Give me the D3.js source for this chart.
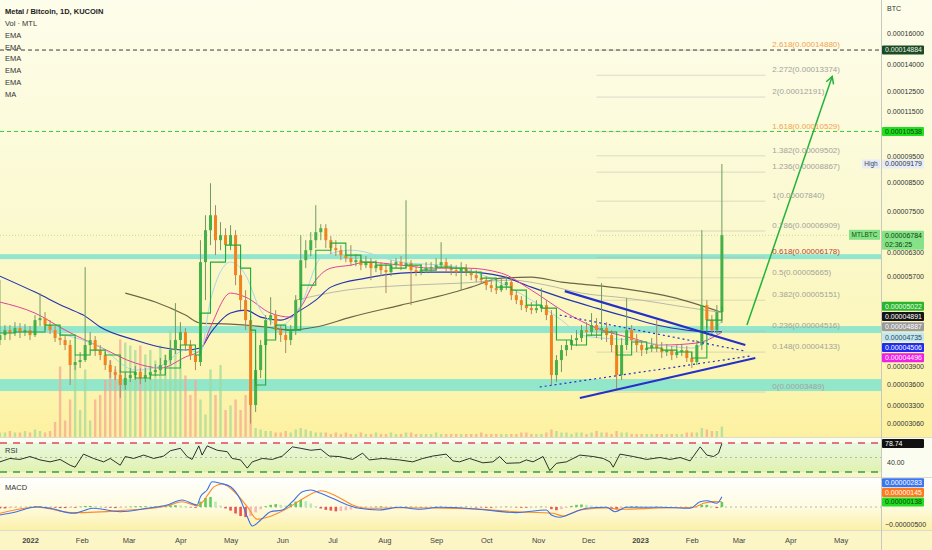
<!DOCTYPE html>
<html>
<head>
<meta charset="utf-8">
<title>Metal / Bitcoin, 1D, KUCOIN</title>
<script src="https://d3js.org/d3.v7.min.js"></script>
<style>
  body { margin: 0; background: #fff; }
  svg { display: block; font-family: "Liberation Sans", Arial, sans-serif; }
</style>
</head>
<body>
<div id="chart"></div>
<script>
// prices are in units of 1e-8 BTC, days are counted from 2021-12-14
const startDate = new Date(2021, 11, 14);
const candleStep = 3; // days per candle

// [open, high, low, close]
const candles = [
  [4350,5609,4259,4443],[4443,4635,4350,4538],[4538,4635,4350,4481],[4481,4694,4424,4577],[4577,4675,4387,4500],
  [4500,4655,4424,4538],[4538,4616,4350,4443],[4443,4836,4406,4734],[4734,5309,4616,4775],[4775,4898,4538,4635],
  [4635,4734,4462,4538],[4538,4616,4314,4387],[4387,4481,4259,4350],[4350,4424,4169,4259],[4259,4350,3595,3913],
  [3913,4082,3830,3963],[3963,4134,3863,3996],[3996,5927,3963,4259],[4259,4500,4169,4350],[4350,4424,4065,4169],
  [4169,4259,3996,4082],[4082,4134,3830,3913],[3913,3996,3703,3798],[3798,3896,3672,3750],[3750,3830,3402,3595],
  [3595,3798,3519,3703],[3703,3863,3641,3750],[3750,3896,3672,3798],[3798,3863,3610,3703],[3703,3863,3641,3750],
  [3750,3896,3672,3798],[3798,3929,3734,3830],[3830,4031,3766,3913],[3913,4082,3830,3996],[3996,4350,3929,4169],
  [4169,5088,4100,4350],[4350,4694,4205,4500],[4500,4577,4169,4259],[4259,4350,3996,4082],[4082,4169,3830,3963],
  [3963,6645,3896,6054],[6054,7387,5153,6932],[6932,8460,6506,7387],[7387,7707,6236,6645],[6645,7172,6369,6787],
  [6787,6991,6157,6506],[6506,7081,6369,6787],[6787,6932,5491,5729],[5729,5977,4939,5153],[5153,5376,4538,4734],
  [4734,4836,3053,3302],[3302,3996,3206,3830],[3830,4350,3703,4259],[4259,4836,4169,4734],[4734,5219,4635,4836],
  [4836,4939,4387,4538],[4538,4635,4314,4443],[4443,4577,4117,4350],[4350,4635,4259,4538],[4538,5263,4443,5153],
  [5153,6787,5045,6105],[6105,6645,5902,6369],[6369,6874,6210,6645],[6645,7707,6424,6874],[6874,7111,6645,6991],
  [6991,7111,6424,6645],[6645,6759,6262,6424],[6424,6645,6210,6369],[6369,6506,6105,6236],[6236,6369,6054,6157],
  [6157,6506,5952,6054],[6054,6262,5952,6105],[6105,6236,5852,5977],[5977,6210,5902,6054],[6054,6157,5609,5902],
  [5902,6105,5803,5977],[5977,6054,5705,5852],[5852,6003,5309,5803],[5803,6105,5705,5977],[5977,6157,5902,6054],
  [6054,6210,5852,5977],[5977,7872,5902,6028],[6028,6105,5045,5852],[5852,5977,5705,5803],[5803,6003,5729,5852],
  [5852,6054,5778,5902],[5902,6054,5803,5927],[5927,6157,5852,5977],[5977,6589,5902,6054],[6054,6157,5803,5902],
  [5902,6003,5729,5852],[5852,5977,5705,5803],[5803,6054,5376,5902],[5902,6003,5705,5803],[5803,5902,5609,5729],
  [5729,5852,5562,5657],[5657,5754,5515,5609],[5609,5705,5376,5491],[5491,5609,5331,5422],[5422,5515,5287,5376],
  [5376,5657,5331,5491],[5491,5705,5376,5562],[5562,5657,5153,5263],[5263,5376,5067,5153],[5153,5241,4939,5045],
  [5045,5197,4898,4981],[4981,5110,4856,4939],[4939,5153,4877,4981],[4981,5422,4898,5045],[5045,5153,4734,4836],
  [4836,4939,3595,3750],[3750,4082,3641,3996],[3996,4259,3798,4169],[4169,4350,4065,4259],[4259,4443,4169,4350],
  [4350,4538,4241,4387],[4387,4635,4314,4538],[4538,4694,4350,4500],[4500,4877,4424,4635],[4635,4775,4387,4538],
  [4538,5538,4350,4577],[4577,4694,4314,4443],[4443,4538,4134,4259],[4259,4350,3519,3750],[3750,4387,3672,4259],
  [4259,5197,4169,4538],[4538,4635,4241,4350],[4350,4462,4134,4259],[4259,4350,4065,4169],[4169,4314,4100,4205],
  [4205,4387,4134,4259],[4259,4734,4134,4205],[4205,4314,4031,4134],[4134,4277,4065,4169],[4169,4241,3996,4082],
  [4082,4259,4031,4134],[4134,4277,4065,4169],[4169,4241,3963,4031],[4031,4134,3863,3963],[3963,4350,3913,4259],
  [4259,6932,4169,5045],[5045,5153,4577,4734],[4734,4836,4424,4538],[4538,5045,4462,4898],[4898,9179,4675,6784]
];

// volume per candle, relative units
const volumes = [
  3,3,4,3,3,4,3,5,4,3,4,10,47,11,25,48,18,45,11,25,28,38,51,45,65,63,61,58,61,55,
  58,51,61,55,71,65,51,41,28,38,25,15,45,28,48,18,21,25,18,28,28,
  6,5,4,4,3,3,4,3,5,6, 5,4,3,3,3,2,3,2,3,2, 2,3,2,2,3,2,2,3,2,2, 3,3,2,2,2,2,3,2,2,2,
  2,2,2,2,2,3,2,2,2,2, 2,2,2,3,3,2,2,2,3,5, 4,3,3,2,3,3,2,3,4,3, 3,2,4,3,3,2,2,2,2,2,
  2,2,2,2,2,2,3,3,3,6, 5,4,4,7
];

// moving averages: [day, price]
const emaFast = [[0,4481],[9,4500],[18,4500],[27,4635],[36,4443],[45,4082],[54,4169],[63,4082],[72,3798],[81,3703],
  [90,3750],[99,3863],[108,4259],[117,4082],[120,4877],[126,6054],[135,6506],[144,5902],[150,4538],[153,3595],
  [159,4350],[165,4635],[171,4538],[180,5491],[189,6369],[198,6561],[207,6236],[216,6054],[225,5977],[234,5902],
  [243,5977],[252,5852],[261,5927],[270,5902],[279,5803],[288,5657],[297,5445],[306,5376],[315,5045],[324,4981],
  [333,4350],[342,4259],[351,4443],[360,4500],[369,4082],[378,4314],[387,4205],[396,4169],[405,4134],[414,4031],
  [423,4734],[432,5022]];
const emaLight = [[0,4500],[21,4538],[39,4443],[60,4223],[81,3830],[96,3896],[111,4169],[120,4134],[126,5153],[138,6054],
  [147,5729],[156,4939],[168,4635],[180,5045],[192,6157],[210,6369],[240,6054],[270,5952],[300,5538],[318,5153],
  [336,4734],[348,4443],[360,4387],[378,4350],[396,4259],[414,4205],[426,4443],[432,4735]];
const emaPink = [[0,5110],[21,4877],[39,4538],[60,4223],[81,3946],[96,3863],[111,4048],[120,4169],[126,4597],[138,5309],
  [147,5219],[162,4877],[174,4795],[180,5003],[189,5609],[198,5902],[210,5977],[219,6054],[240,5977],[258,5902],
  [279,5902],[300,5778],[318,5376],[339,4877],[357,4577],[378,4387],[396,4259],[417,4296],[432,4496]];
const emaBlue = [[0,5705],[21,5331],[39,5003],[51,4815],[60,4597],[81,4350],[99,4205],[111,4169],[120,4205],[126,4481],
  [138,4877],[147,4939],[156,4795],[168,4734],[180,4939],[189,5153],[198,5445],[219,5657],[240,5778],[258,5803],
  [279,5803],[300,5705],[318,5445],[339,5175],[357,4981],[378,4775],[396,4616],[417,4519],[432,4506]];
const emaGray = [[177,5153],[207,5376],[246,5491],[276,5538],[306,5609],[327,5491],[348,5309],[375,5197],[414,4981],[432,4887]];
const ma200 = [[75,5309],[93,5110],[111,4836],[120,4675],[138,4655],[159,4597],[174,4538],[189,4597],[210,4795],[240,5045],
  [270,5309],[282,5445],[300,5657],[318,5681],[336,5562],[348,5515],[375,5399],[402,5219],[432,4891]];

// RSI: [day, value]
const rsi = [[0,41],[6,48],[12,46],[18,52],[24,45],[30,41],[36,46],[42,34],[45,30],[50,57],
  [56,48],[62,41],[66,48],[72,34],[75,52],[80,48],[86,55],[92,48],[98,53],[102,64],
  [108,69],[112,52],[115,46],[119,74],[121,55],[124,74],[130,65],[136,62],[139,48],[144,45],
  [148,28],[151,41],[157,48],[163,46],[169,53],[175,72],[180,69],[186,65],[192,67],[197,53],
  [203,52],[211,46],[217,59],[221,45],[229,48],[239,45],[247,41],[253,48],[259,53],[267,57],
  [271,43],[275,41],[281,48],[289,39],[295,41],[299,52],[303,38],[311,39],[315,45],[319,41],
  [325,52],[329,23],[333,38],[339,41],[347,55],[355,52],[361,48],[365,41],[367,30],[371,57],
  [379,52],[387,46],[395,50],[401,46],[407,50],[413,43],[419,72],[423,55],[427,52],[430,59],[432,78.74]];
const rsiLevels = [80, 50, 20];

// MACD (units of 1e-8): [day, value]
const macdLine = [[0,-222],[10,-130],[22,8],[30,-36],[44,-175],[56,-36],[72,-130],[88,-36],[100,56],[109,194],
  [118,56],[120,286],[124,472],[127,703],[132,658],[138,564],[144,194],[148,-269],[151,-528],[156,-361],
  [162,-130],[169,-83],[175,147],[181,425],[186,472],[192,380],[199,242],[208,56],[215,-36],[227,-83],
  [239,-8],[251,-64],[263,-8],[279,-36],[291,-83],[309,-157],[327,-83],[330,-222],[335,-286],[343,-157],
  [351,-36],[363,-8],[368,-130],[375,-8],[395,-8],[413,-36],[419,147],[423,175],[429,103],[432,283]];
const signalLine = [[0,-175],[22,-8],[44,-157],[72,-101],[100,28],[109,147],[118,30],[121,120],[125,380],[128,560],
  [133,640],[139,480],[148,8],[154,-342],[160,-286],[172,-36],[180,194],[192,453],[202,286],[211,56],
  [220,-36],[239,-19],[279,-45],[309,-130],[331,-175],[337,-250],[347,-83],[363,-27],[371,-64],[395,-27],
  [415,-8],[421,103],[427,148],[432,145]];
const macdHist = [
  -40,-40,-30,-20,-10,0,10, 20,20,10,-10, -20,-30,-30,-20,-20, 10,30,30,20,10, -10,-20,-30,-20,-10,
  10,20,20,20,10, 20,30,40,50,50, 40,20,-10,-20, 150,250,280,150, 40,-40,-100, -180,-250,-280,-250,
  -150,-60,20, 60,80,60,40, 80,150,200,160, 100,20,-40,-80, -100,-120,-110,-90,-70,
  -40,-20,-10,0,10, 20,10,0,-10,0, 10,10,0,-10,-10, 0,10,10,0,-10, -10,0,10,0,-10,
  -10,-20,-20,-10,0, 10,0,-10,-20,-20, -10,0,10,0,-60, -90,-60,-20,30,60, 70,60,40,20,10,
  0,-20,-60,-30,10, 20,20,10,0,0, 10,0,-10,0,0, 0,-10,-20,-10,60, 60,20,-30,138
];

// zones, levels and drawings
const zones = [[6131,6262],[4481,4616],[3504,3687]];
const fibRatios = [0, 0.148, 0.236, 0.382, 0.5, 0.618, 0.786, 1, 1.236, 1.382, 1.618, 2, 2.272, 2.618];
const fibPrices = [3489, 4133, 4516, 5151, 5665, 6178, 6909, 7840, 8867, 9502, 10529, 12191, 13374, 14880];
const fibSpan = [357, 458];
const hLines = [[14884, "#3a3a3a"], [10538, "#2fcf3f"]];
const trendLines = [
  {from: [338,5353], to: [446,4259], dash: null},
  {from: [347,3402], to: [452,4031], dash: null},
  {from: [335,4836], to: [446,4151], dash: "2,3"},
  {from: [323,3565], to: [449,4065], dash: "2,3"}
];
const arrow = {from: [447,4635], to: [498,13310]};

const priceTicks = [16000,14000,12500,11500,9500,8500,7500,6300,5700,3900,3600,3300,3060];
const timeTickLabels = ["2022","Feb","Mar","Apr","May","Jun","Jul","Aug","Sep","Oct","Nov","Dec","2023","Feb","Mar","Apr","May"];
const legendItems = ["Vol · MTL","EMA","EMA","EMA","EMA","EMA","MA"];

const lastPrice = 6784, highPrice = 9179;
const mainBadges = [
  {v: 5022, bg: "#2cb52c", fg: "#eaffea"},
  {v: 4891, bg: "#151515", fg: "#ffffff"},
  {v: 4887, bg: "#9b9b9b", fg: "#ffffff"},
  {v: 4735, bg: "#bfe8f3", fg: "#334455"},
  {v: 4506, bg: "#1f2df0", fg: "#ffffff"},
  {v: 4496, bg: "#f020e6", fg: "#ffffff"}
];
const macdBadges = [
  {v: 138, bg: "#22dd22", fg: "#0b3b0b"},
  {v: 145, bg: "#ff7a1a", fg: "#ffffff"},
  {v: 283, bg: "#3b76ee", fg: "#ffffff"}
];

// ---- layout ----
const W = 932, H = 550, plotRight = 881;
const mainBottom = 437, rsiBottom = 477, macdBottom = 530;

const svg = d3.select("#chart").append("svg").attr("width", W).attr("height", H);
const defs = svg.append("defs");

function vGrad(id, stops) {
  const g = defs.append("linearGradient").attr("id", id)
    .attr("x1", 0).attr("y1", 0).attr("x2", 0).attr("y2", 1);
  stops.forEach(s => g.append("stop").attr("offset", s[0]).attr("stop-color", s[1]));
}
vGrad("bgMain", [[0, "#fdfdeb"], [0.5, "#fbf9d0"], [0.86, "#fcf5b2"], [1, "#fdf1a0"]]);
vGrad("bgRsi", [[0, "#e9f8df"], [1, "#e0f2b0"]]);
vGrad("bgMacd", [[0, "#ffffff"], [0.55, "#fefbe2"], [1, "#fbf1a8"]]);

function clip(id, y0, y1) {
  defs.append("clipPath").attr("id", id).append("rect")
    .attr("x", 0).attr("y", y0).attr("width", plotRight).attr("height", y1 - y0);
}
clip("clipMain", 0, mainBottom);
clip("clipRsi", mainBottom, rsiBottom);
clip("clipMacd", rsiBottom, macdBottom);

const x = d3.scaleTime().domain([new Date(2022, 0, 1), new Date(2023, 0, 1)]).range([30, 640]);
const dayX = d => x(d3.timeDay.offset(startDate, d));
const y = d3.scaleLog().domain([3060, 16000]).range([423, 33]);
const yVol = d3.scaleLinear().domain([0, 100]).range([mainBottom, 287]);
const yRsi = d3.scaleLinear().domain([20, 80]).range([472, 443]);
const yMacd = d3.scaleLinear().domain([-500, 0]).range([525, 507]);
const fmt = v => (v * 1e-8).toFixed(8);

// backgrounds
svg.append("rect").attr("width", W).attr("height", mainBottom).attr("fill", "url(#bgMain)");
svg.append("rect").attr("y", mainBottom).attr("width", W).attr("height", rsiBottom - mainBottom).attr("fill", "#fbfdf0");
svg.append("rect").attr("y", yRsi(80)).attr("width", plotRight).attr("height", yRsi(20) - yRsi(80)).attr("fill", "url(#bgRsi)");
svg.append("rect").attr("y", yRsi(20)).attr("width", plotRight).attr("height", rsiBottom - yRsi(20)).attr("fill", "#f7f6c6");
svg.append("rect").attr("y", rsiBottom).attr("width", W).attr("height", macdBottom - rsiBottom).attr("fill", "url(#bgMacd)");
svg.append("rect").attr("y", macdBottom).attr("width", W).attr("height", H - macdBottom).attr("fill", "#fcf6c6");

// ---- main pane ----
const gMain = svg.append("g").attr("clip-path", "url(#clipMain)");

gMain.selectAll("rect.zone").data(zones).join("rect")
  .attr("x", 0).attr("width", plotRight)
  .attr("y", d => y(d[1])).attr("height", d => y(d[0]) - y(d[1]))
  .attr("fill", "#7fe3cf").attr("opacity", 0.85);

// fib lines
gMain.selectAll("line.fib").data(fibPrices).join("line")
  .attr("x1", dayX(fibSpan[0])).attr("x2", dayX(fibSpan[1]))
  .attr("y1", d => y(d)).attr("y2", d => y(d))
  .attr("stroke", "#b4b4a8").attr("stroke-opacity", 0.45);

// horizontal dashed levels
gMain.selectAll("line.hl").data(hLines).join("line")
  .attr("x1", 0).attr("x2", plotRight)
  .attr("y1", d => y(d[0])).attr("y2", d => y(d[0]))
  .attr("stroke", d => d[1]).attr("stroke-dasharray", "4,3");

// last price line
gMain.append("line").attr("x1", 0).attr("x2", plotRight)
  .attr("y1", y(lastPrice)).attr("y2", y(lastPrice))
  .attr("stroke", "#5cbf5c").attr("stroke-opacity", 0.4).attr("stroke-dasharray", "1,2");

// volume
gMain.selectAll("rect.vol").data(volumes).join("rect")
  .attr("x", (d, i) => dayX(i * candleStep) - 1.2).attr("width", 2.4)
  .attr("y", d => yVol(d)).attr("height", d => mainBottom - yVol(d))
  .attr("fill", (d, i) => candles[i][3] >= candles[i][0] ? "#9fd99a" : "#f4a592")
  .attr("opacity", 0.7);

const maLine = d3.line().x(d => dayX(d[0])).y(d => y(d[1])).curve(d3.curveMonotoneX);
[[ma200, "#6b6548", 1.1], [emaGray, "#b9b9aa", 1], [emaBlue, "#2433b0", 1.1],
 [emaPink, "#e2409e", 1], [emaLight, "#a3d9ec", 1]].forEach(s => {
  gMain.append("path").attr("d", maLine(s[0])).attr("fill", "none")
    .attr("stroke", s[1]).attr("stroke-width", s[2]);
});

// candles
const cg = gMain.selectAll("g.candle").data(candles).join("g");
cg.append("line")
  .attr("x1", (d, i) => dayX(i * candleStep)).attr("x2", (d, i) => dayX(i * candleStep))
  .attr("y1", d => y(d[1])).attr("y2", d => y(d[2]))
  .attr("stroke", d => d[3] >= d[0] ? "#6f9a5e" : "#a88a62").attr("stroke-width", 1);
cg.append("rect")
  .attr("x", (d, i) => dayX(i * candleStep) - 1.5).attr("width", 3)
  .attr("y", d => y(Math.max(d[0], d[3])))
  .attr("height", d => Math.max(1, Math.abs(y(d[0]) - y(d[3]))))
  .attr("fill", d => d[3] >= d[0] ? "#45b04a" : "#f0821f");

// fast EMA as a step line
gMain.append("path")
  .attr("d", d3.line().x(d => dayX(d[0])).y(d => y(d[1])).curve(d3.curveStepAfter)(emaFast))
  .attr("fill", "none").attr("stroke", "#1faa3c").attr("stroke-width", 1.1);

// trend lines
gMain.selectAll("line.trend").data(trendLines).join("line")
  .attr("x1", d => dayX(d.from[0])).attr("y1", d => y(d.from[1]))
  .attr("x2", d => dayX(d.to[0])).attr("y2", d => y(d.to[1]))
  .attr("stroke", "#2430c8").attr("stroke-width", d => d.dash ? 1.2 : 2.2)
  .attr("stroke-dasharray", d => d.dash);

// arrow
{
  const x1 = dayX(arrow.from[0]), y1 = y(arrow.from[1]);
  const x2 = dayX(arrow.to[0]), y2 = y(arrow.to[1]);
  const ang = Math.atan2(y2 - y1, x2 - x1);
  const head = 8, spread = 0.5;
  const g = gMain.append("g").attr("stroke", "#22b33a").attr("stroke-width", 1.5).attr("fill", "none");
  g.append("line").attr("x1", x1).attr("y1", y1).attr("x2", x2).attr("y2", y2);
  g.append("path").attr("d",
    `M${x2 - head * Math.cos(ang - spread)},${y2 - head * Math.sin(ang - spread)}L${x2},${y2}` +
    `L${x2 - head * Math.cos(ang + spread)},${y2 - head * Math.sin(ang + spread)}`);
}

// fib labels
gMain.selectAll("text.fib").data(fibRatios).join("text")
  .attr("x", dayX(fibSpan[1]) + 7).attr("y", (d, i) => y(fibPrices[i]) - 3)
  .attr("font-size", 8)
  .attr("fill", d => d === 0.618 ? "#b8432f" : (d === 1.618 || d === 2.618) ? "#f3a24e" : "#a3a39a")
  .text((d, i) => d + "(" + fmt(fibPrices[i]) + ")");

// legend
svg.append("text").attr("x", 5).attr("y", 14).attr("font-size", 7.5).attr("font-weight", "bold")
  .attr("fill", "#222").text("Metal / Bitcoin, 1D, KUCOIN");
svg.selectAll("text.legend").data(legendItems).join("text")
  .attr("x", 5).attr("y", (d, i) => 26 + i * 11.8)
  .attr("font-size", 7.5).attr("fill", "#333").text(d => d);

// ---- RSI pane ----
const gRsi = svg.append("g").attr("clip-path", "url(#clipRsi)");
gRsi.selectAll("line.lvl").data(rsiLevels).join("line")
  .attr("x1", 0).attr("x2", plotRight)
  .attr("y1", d => yRsi(d)).attr("y2", d => yRsi(d))
  .attr("stroke", d => d === 80 ? "#e2455c" : d === 20 ? "#3a9a4c" : "#a8a8a0")
  .attr("stroke-width", d => d === 50 ? 0.8 : 1.5)
  .attr("stroke-dasharray", d => d === 50 ? "2,3" : "7,6");
gRsi.append("path")
  .attr("d", d3.line().x(d => dayX(d[0])).y(d => yRsi(d[1])).curve(d3.curveLinear)(rsi))
  .attr("fill", "none").attr("stroke", "#1a1a1a").attr("stroke-width", 0.9);
svg.append("text").attr("x", 5).attr("y", 453).attr("font-size", 7.5).attr("fill", "#333").text("RSI");

// ---- MACD pane ----
const gMacd = svg.append("g").attr("clip-path", "url(#clipMacd)");
gMacd.append("line").attr("x1", 0).attr("x2", plotRight)
  .attr("y1", yMacd(0)).attr("y2", yMacd(0))
  .attr("stroke", "#a8a8a0").attr("stroke-width", 0.8).attr("stroke-dasharray", "2,3");
gMacd.selectAll("rect.hist").data(macdHist).join("rect")
  .attr("x", (d, i) => dayX(i * candleStep) - 1.3).attr("width", 2.6)
  .attr("y", d => Math.min(yMacd(d), yMacd(0)))
  .attr("height", d => Math.abs(yMacd(d) - yMacd(0)))
  .attr("fill", (d, i) => {
    const prev = i > 0 ? macdHist[i - 1] : 0;
    if (d >= 0) return d >= prev ? "#5ccf5c" : "#b8ebb8";
    return d <= prev ? "#ef5350" : "#f7b9b9";
  });
const macdPath = d3.line().x(d => dayX(d[0])).y(d => yMacd(d[1])).curve(d3.curveMonotoneX);
gMacd.append("path").attr("d", macdPath(signalLine)).attr("fill", "none")
  .attr("stroke", "#ff8a24").attr("stroke-width", 1.1);
gMacd.append("path").attr("d", macdPath(macdLine)).attr("fill", "none")
  .attr("stroke", "#3d6fe6").attr("stroke-width", 1.1);
svg.append("text").attr("x", 5).attr("y", 490).attr("font-size", 7.5).attr("fill", "#333").text("MACD");

// ---- separators ----
[mainBottom, rsiBottom, macdBottom].forEach(v => {
  svg.append("line").attr("x1", 0).attr("x2", W).attr("y1", v + 0.5).attr("y2", v + 0.5)
    .attr("stroke", "#dcdccc");
});
svg.append("line").attr("x1", plotRight + 0.5).attr("x2", plotRight + 0.5)
  .attr("y1", 0).attr("y2", H).attr("stroke", "#c8c8bc");

// ---- axes ----
const yAxis = svg.append("g").attr("transform", `translate(${plotRight},0)`)
  .call(d3.axisRight(y).tickValues(priceTicks).tickSize(0).tickPadding(6).tickFormat(fmt));
yAxis.select(".domain").remove();
yAxis.attr("font-size", 7).attr("font-family", "Liberation Sans, Arial, sans-serif").attr("color", "#333");
svg.append("text").attr("x", plotRight + 6).attr("y", 11).attr("font-size", 7).attr("fill", "#333").text("BTC");

svg.append("text").attr("x", plotRight + 6).attr("y", yRsi(40)).attr("dy", "0.35em")
  .attr("font-size", 7).attr("fill", "#333").text("40.00");
svg.append("text").attr("x", plotRight + 4).attr("y", yMacd(-500)).attr("dy", "0.35em")
  .attr("font-size", 7).attr("fill", "#333").text(fmt(-500).replace("-0", "−0"));

const monthDates = d3.timeMonth.range(new Date(2022, 0, 1), new Date(2023, 4, 2));
const xAxis = svg.append("g").attr("transform", `translate(0,${macdBottom})`)
  .call(d3.axisBottom(x).tickValues(monthDates).tickSize(0).tickPadding(8)
    .tickFormat((d, i) => timeTickLabels[i]));
xAxis.select(".domain").remove();
xAxis.attr("font-size", 7.5).attr("font-family", "Liberation Sans, Arial, sans-serif").attr("color", "#444");
xAxis.selectAll("text").attr("font-weight", (d, i) => timeTickLabels[i].length === 4 ? "bold" : null);

// ---- badges ----
function badge(cy, label, bg, fg, h) {
  const g = svg.append("g");
  g.append("rect").attr("x", plotRight + 1).attr("y", cy - 4.5).attr("width", 42).attr("height", h || 9)
    .attr("fill", bg).attr("rx", 1);
  g.append("text").attr("x", plotRight + 4).attr("y", cy).attr("dy", "0.35em")
    .attr("font-size", 7).attr("fill", fg).text(label);
  return g;
}
function stack(items, scale, dir, gap) {
  let last = null;
  items.forEach(b => {
    let yy = scale(b.v);
    if (last !== null) yy = dir > 0 ? Math.max(yy, last + gap) : Math.min(yy, last - gap);
    b.y = yy; last = yy;
  });
}

badge(y(14884), fmt(14884), "#1c4a24", "#e8f5e8");
badge(y(10538), fmt(10538), "#1fe01f", "#0c3d0c");

// high marker
badge(y(highPrice), fmt(highPrice), "#e6ecf8", "#333");
svg.append("rect").attr("x", 862).attr("y", y(highPrice) - 4.5).attr("width", 18).attr("height", 9).attr("fill", "#e6ecf8");
svg.append("text").attr("x", 871).attr("y", y(highPrice)).attr("dy", "0.35em").attr("text-anchor", "middle")
  .attr("font-size", 6.5).attr("fill", "#445").text("High");

// last price
{
  const cy = y(lastPrice);
  const g = badge(cy, fmt(lastPrice), "#86e286", "#0f3f0f", 19);
  g.append("text").attr("x", plotRight + 4).attr("y", cy + 9).attr("dy", "0.35em")
    .attr("font-size", 7).attr("fill", "#0f3f0f").text("02:36:25");
  svg.append("rect").attr("x", 849).attr("y", cy - 5.5).attr("width", 31).attr("height", 10).attr("fill", "#86e286");
  svg.append("text").attr("x", 864.5).attr("y", cy - 0.5).attr("dy", "0.35em").attr("text-anchor", "middle")
    .attr("font-size", 6.5).attr("fill", "#145014").text("MTLBTC");
}

stack(mainBadges, y, 1, 10.3);
mainBadges.forEach(b => badge(b.y, fmt(b.v), b.bg, b.fg));

badge(yRsi(78.74), "78.74", "#111", "#fff");

stack(macdBadges, yMacd, -1, 9.6);
macdBadges.forEach(b => badge(b.y, fmt(b.v), b.bg, b.fg));
</script>
</body>
</html>
